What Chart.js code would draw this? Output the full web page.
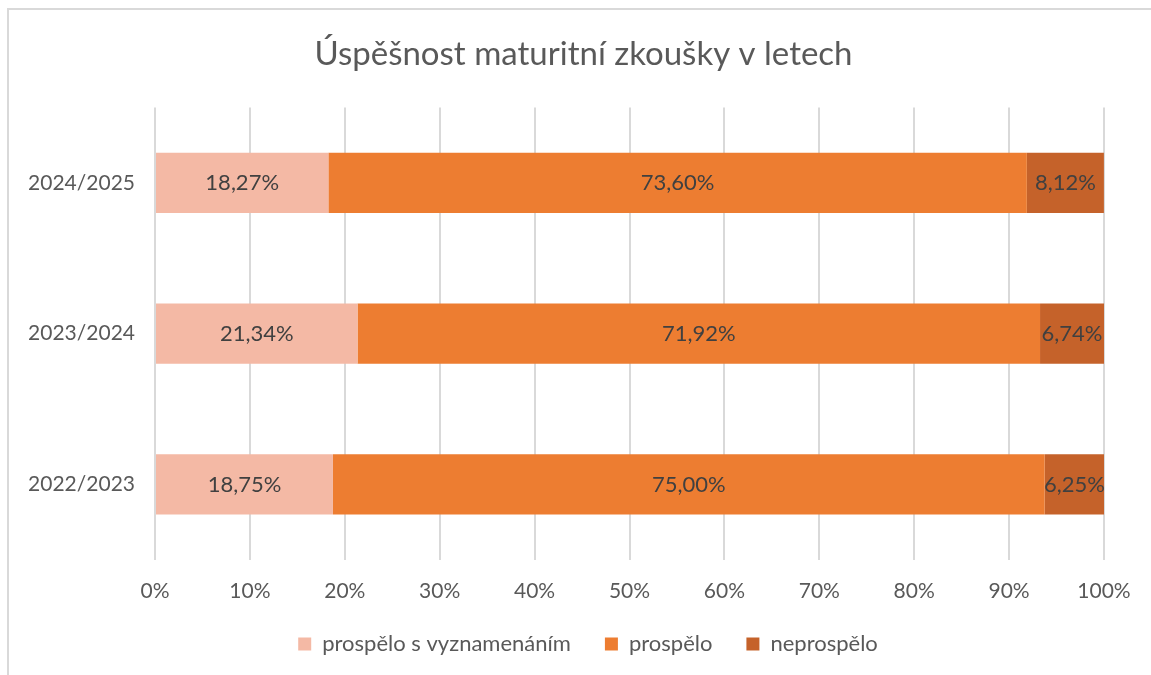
<!DOCTYPE html>
<html>
<head>
<meta charset="utf-8">
<script src="https://cdn.jsdelivr.net/npm/chart.js@4"></script>
<style>
  html, body { margin: 0; padding: 0; background: #fff; }
  #frame { position: absolute; left: 7px; top: 8px; width: 1200px; height: 700px;
           border-left: 2px solid #d9d9d9; border-top: 2px solid #d9d9d9; }
  #wrap { position: absolute; left: 0; top: 0; width: 1151px; height: 675px; }
</style>
</head>
<body>
<div id="frame"></div>
<div id="wrap"><canvas id="chart"></canvas></div>
<script>
// data
const years = ['2024/2025', '2023/2024', '2022/2023'];
const sVyznamenanim = [18.27, 21.34, 18.75];
const prospelo = [73.60, 71.92, 75.00];
const neprospelo = [8.12, 6.74, 6.25];
const xTicks = [0, 10, 20, 30, 40, 50, 60, 70, 80, 90, 100];

const FONT = 'Lato, "Open Sans", sans-serif';

// draws value labels in the middle of each bar segment
const barLabels = {
  id: 'barLabels',
  afterDatasetsDraw(chart) {
    const ctx = chart.ctx;
    ctx.save();
    ctx.font = '22px ' + FONT;
    ctx.fillStyle = '#404040';
    ctx.textAlign = 'center';
    ctx.textBaseline = 'middle';
    chart.data.datasets.forEach((ds, i) => {
      chart.getDatasetMeta(i).data.forEach((bar, j) => {
        const mid = (bar.x + bar.base) / 2;
        ctx.fillText(ds.data[j].toFixed(2).replace('.', ',') + '%', mid, bar.y);
      });
    });
    ctx.restore();
  }
};

// title and legend sit a bit right of the canvas centre, legend closer to the axis
const shiftBoxes = {
  id: 'shiftBoxes',
  afterLayout(chart) {
    chart.titleBlock.left += 49;
    chart.legend.left += 58;
    chart.legend.top -= 24;
    chart.legend.bottom -= 24;
  }
};

new Chart(document.getElementById('chart'), {
  type: 'bar',
  data: {
    labels: years,
    datasets: [
      { label: 'prospělo s vyznamenáním', data: sVyznamenanim, backgroundColor: '#f4b9a5' },
      { label: 'prospělo', data: prospelo, backgroundColor: '#ed7d31' },
      { label: 'neprospělo', data: neprospelo, backgroundColor: '#c5622a' }
    ]
  },
  options: {
    indexAxis: 'y',
    responsive: true,
    maintainAspectRatio: false,
    animation: false,
    datasets: { bar: { categoryPercentage: 1, barPercentage: 0.4 } },
    layout: { padding: { left: 14, right: 47, top: 14, bottom: -14 } },
    scales: {
      x: {
        stacked: true,
        min: 0, max: 100,
        afterBuildTicks: axis => { axis.ticks = xTicks.map(v => ({ value: v })); },
        grid: { color: '#d9d9d9', lineWidth: 2, drawTicks: false },
        border: { display: false },
        ticks: { padding: 19, color: '#595959', font: { family: FONT, size: 21 }, callback: v => v + '%' }
      },
      y: {
        stacked: true,
        afterFit: axis => { axis.width = 141; },
        grid: { display: false, drawTicks: false },
        border: { display: false },
        ticks: { padding: 20, color: '#595959', font: { family: FONT, size: 21 } }
      }
    },
    plugins: {
      title: {
        display: true,
        text: 'Úspěšnost maturitní zkoušky v letech',
        color: '#595959',
        font: { family: FONT, size: 33, weight: 'normal' },
        padding: { top: 21, bottom: 33 }
      },
      legend: {
        position: 'bottom',
        labels: { color: '#595959', font: { family: FONT, size: 22 }, boxWidth: 13, boxHeight: 13, padding: 34 }
      },
      tooltip: { enabled: false }
    }
  },
  plugins: [barLabels, shiftBoxes]
});
</script>
</body>
</html>
